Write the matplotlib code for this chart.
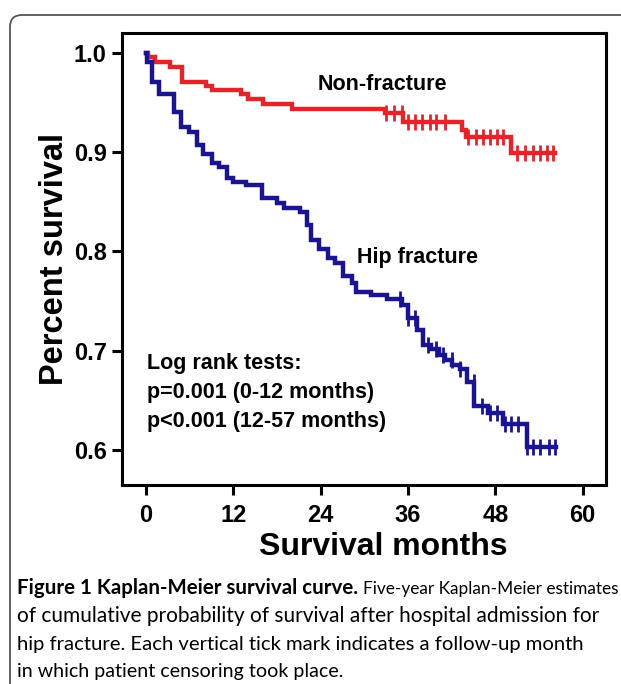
import numpy as np
import matplotlib
matplotlib.use("Agg")
import matplotlib.pyplot as plt
from matplotlib import font_manager
from matplotlib.patches import FancyBboxPatch

# Kaplan-Meier steps (months, survival)
red_t = [0, 0.3, 1.2, 3.3, 4.9, 8.3, 9.0, 13.1, 14.0, 16.1, 20.0, 32.8, 35.3, 43.4, 44.0, 50.2, 56.2]
red_s = [1.0, 0.996, 0.991, 0.986, 0.971, 0.967, 0.963, 0.959, 0.954, 0.949, 0.944, 0.940, 0.930,
         0.922, 0.915, 0.899, 0.899]
red_cens = [32.9, 34.0, 35.2, 36.0, 36.9, 37.9, 39.0, 39.9, 41.1, 44.3, 45.4, 46.3, 47.3, 48.2, 49.1,
            51.0, 52.0, 53.2, 54.1, 55.1, 55.9]

blue_t = [0, 0.1, 0.8, 1.8, 3.9, 4.8, 5.9, 7.0, 7.8, 9.0, 10.0, 11.1, 12.0, 13.8, 15.9, 18.0, 18.9,
          21.2, 22.1, 22.7, 23.7, 25.0, 26.0, 27.1, 28.3, 28.9, 30.9, 33.1, 35.1, 36.0, 37.2, 38.1,
          39.1, 40.2, 41.1, 42.1, 43.1, 44.1, 45.1, 47.0, 49.1, 52.3, 56.3]
blue_s = [1.0, 0.991, 0.971, 0.959, 0.941, 0.925, 0.920, 0.907, 0.898, 0.889, 0.885, 0.874, 0.870,
          0.867, 0.854, 0.849, 0.844, 0.840, 0.827, 0.812, 0.803, 0.793, 0.788, 0.775, 0.768, 0.759,
          0.756, 0.752, 0.746, 0.733, 0.721, 0.706, 0.702, 0.696, 0.691, 0.686, 0.682, 0.669, 0.644,
          0.637, 0.626, 0.603, 0.603]
blue_cens = [34.9, 36.0, 37.0, 38.8, 39.9, 40.8, 42.0, 43.1, 45.0, 46.1, 47.3, 48.2, 49.3, 50.2, 51.1,
             52.3, 53.2, 54.1, 55.3, 56.2]

x_ticks = [0, 12, 24, 36, 48, 60]
y_ticks = [0.6, 0.7, 0.8, 0.9, 1.0]

RED = "#E3242B"; BLUE = "#1B1490"; FRAME = "#555555"

names = {f.name for f in font_manager.fontManager.ttflist}
NARROW = "Liberation Sans Narrow" if "Liberation Sans Narrow" in names else "Liberation Sans"
CAP = "Lato"

fig = plt.figure(figsize=(6.21, 6.84), dpi=100)
ax = fig.add_axes([0.1965, 0.2909, 0.7794, 0.6608])

def km(t, s, cens, color):
    ax.step(t, s, where="post", color=color, lw=3.2, solid_joinstyle="miter", zorder=3)
    idx = np.searchsorted(t, cens, side="right") - 1
    ax.plot(cens, np.array(s)[idx], ls="none", marker="|", ms=11, mew=2.0, color=color, zorder=3)

km(red_t, red_s, red_cens, RED)
km(blue_t, blue_s, blue_cens, BLUE)

ax.set_xlim(-3.3, 63.2)
ax.set_ylim(0.5647, 1.0201)
ax.set_xticks(x_ticks)
ax.set_yticks(y_ticks)
ax.set_yticklabels([f"{v:.1f}" for v in y_ticks])
ax.tick_params(width=2.2, length=7, pad=4, labelsize=17)
ax.tick_params(axis="x", pad=7)
for lbl in ax.get_xticklabels() + ax.get_yticklabels():
    lbl.set_family(NARROW); lbl.set_fontweight("bold")
for sp in ax.spines.values():
    sp.set_linewidth(2.2)

ax.set_xlabel("Survival months", family=NARROW, fontweight="bold", fontsize=23)
ax.xaxis.set_label_coords(0.539, -0.105)
ax.set_ylabel("Percent survival", family=NARROW, fontweight="bold", fontsize=23.5, labelpad=3)

tk = dict(family=NARROW, fontweight="bold", fontsize=15.5, va="center", ha="left")
ax.text(23.6, 0.968, "Non-fracture", **tk)
ax.text(29.0, 0.794, "Hip fracture", **tk)
ax.text(0.1, 0.687, "Log rank tests:", **tk)
ax.text(0.1, 0.658, "p=0.001 (0-12 months)", **tk)
ax.text(0.1, 0.629, "p<0.001 (12-57 months)", **tk)

# rounded frame around figure + caption
frame = FancyBboxPatch((0.10, -0.5), 7.0, 6.69 + 0.5, boxstyle="round,pad=0,rounding_size=0.12",
                       transform=fig.dpi_scale_trans, fc="none", ec=FRAME, lw=1.3, zorder=0)
fig.add_artist(frame)

H = 684.0
x0 = 17 / 621
t1 = fig.text(x0, 1 - 594 / H, "Figure 1 Kaplan-Meier survival curve.", family=CAP, fontweight="bold",
              fontsize=14.8, va="baseline")
fig.canvas.draw()
bb = t1.get_window_extent()
fig.text((bb.x1 + 5) / fig.bbox.width, 1 - 594 / H, "Five-year Kaplan-Meier estimates", family=CAP,
         fontsize=12.4, va="baseline")
fig.text(x0, 1 - 622 / H, "of cumulative probability of survival after hospital admission for",
         family=CAP, fontsize=15.0, va="baseline")
fig.text(x0, 1 - 650 / H, "hip fracture. Each vertical tick mark indicates a follow-up month",
         family=CAP, fontsize=14.6, va="baseline")
fig.text(x0, 1 - 677 / H, "in which patient censoring took place.", family=CAP, fontsize=14.1,
         va="baseline")

fig.savefig("out.png", dpi=100)
